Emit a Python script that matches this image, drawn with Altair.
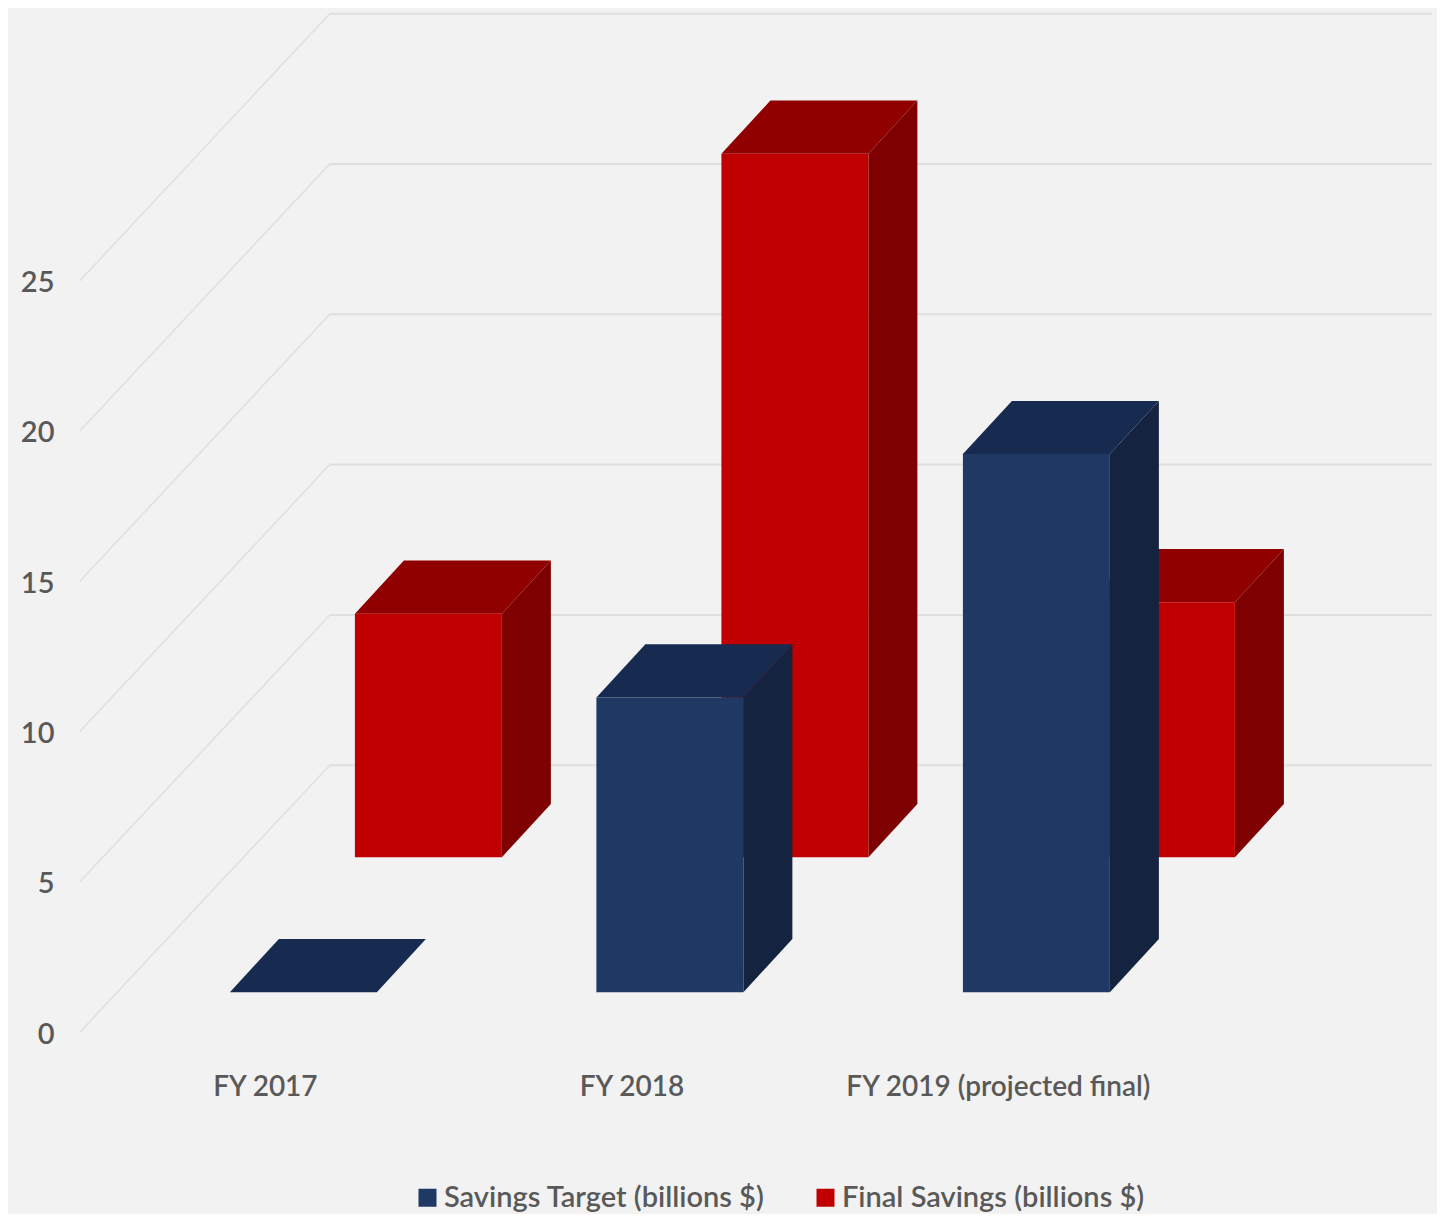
import altair as alt
import pandas as pd

categories = ["FY 2017", "FY 2018", "FY 2019 (projected final)"]
savings_target = [0.0, 9.8, 17.9]
final_savings = [8.1, 23.4, 8.48]
series_names = ["Savings Target (billions $)", "Final Savings (billions $)"]
axis_ticks = [0, 5, 10, 15, 20, 25]

FRONT = {series_names[0]: "#1f3864", series_names[1]: "#c00000"}
TOP = {series_names[0]: "#172a4f", series_names[1]: "#900000"}
SIDE = {series_names[0]: "#14233f", series_names[1]: "#7f0000"}
TEXT = "#595959"
GRID = "#dfdfdf"
FONT = "Lato"
FS = 29

# projection geometry, in data units
BASE = {series_names[0]: 1.33, series_names[1]: 5.82}
LEFT = {series_names[0]: -0.0955, series_names[1]: 0.2456}
BAR_W = 0.401
DX = 0.1337
DY = 1.77
WALL_V = 8.88
WALL_X0, WALL_X1, FLOOR_X = 0.177, 3.184, -0.505

x_scale = alt.Scale(domain=[-0.559, 3.198], nice=False, zero=False)
y_scale = alt.Scale(domain=[-6.05, 34.07], nice=False, zero=False)
X = lambda f="x", **k: alt.X(f"{f}:Q", scale=x_scale, **k)
Y = lambda f="y", **k: alt.Y(f"{f}:Q", scale=y_scale, **k)

rows = []
for s, vals in zip(series_names, [savings_target, final_savings]):
    for i, (c, v) in enumerate(zip(categories, vals)):
        rows.append(dict(series=s, cat=c, x0=i + LEFT[s], x1=i + LEFT[s] + BAR_W,
                         b=BASE[s], t=BASE[s] + v))
bars = pd.DataFrame(rows)

side_rows, top_rows = [], []
for r in rows:
    side_rows += [dict(series=r["series"], cat=r["cat"], x=r["x1"], y=r["b"], y2=r["t"]),
                  dict(series=r["series"], cat=r["cat"], x=r["x1"] + DX, y=r["b"] + DY, y2=r["t"] + DY)]
    top_rows += [dict(series=r["series"], cat=r["cat"], y=r["t"], x=r["x0"], x2=r["x1"]),
                 dict(series=r["series"], cat=r["cat"], y=r["t"] + DY, x=r["x0"] + DX, x2=r["x1"] + DX)]
sides = pd.DataFrame(side_rows)
tops = pd.DataFrame(top_rows)

wall = pd.DataFrame([dict(v=t + WALL_V, x=WALL_X0, x2=WALL_X1) for t in axis_ticks])
diag = pd.DataFrame(
    [dict(k=t, x=FLOOR_X, y=t) for t in axis_ticks] +
    [dict(k=t, x=WALL_X0, y=t + WALL_V) for t in axis_ticks]
)

axes = alt.Chart(pd.DataFrame({"x": [0.0], "y": [0.0]})).mark_point(opacity=0).encode(
    x=X(axis=alt.Axis(values=[0, 1, 2], title=None, domain=False, ticks=False, grid=False,
                      labelExpr=f"['{categories[0]}','{categories[1]}','{categories[2]}'][datum.value]",
                      labelFont=FONT, labelFontSize=28, labelColor=TEXT, labelPadding=0,
                      labelFontWeight=600, labelLimit=0, labelOverlap=False, labelFlush=False,
                      labelBaseline="middle", offset=-127)),
    y=Y(axis=alt.Axis(values=axis_ticks, title=None, domain=False, ticks=False, grid=False,
                      labelFont=FONT, labelFontSize=FS, labelColor=TEXT, labelPadding=6,
                      labelFontWeight=600, labelOffset=2)),
)

wall_lines = alt.Chart(wall).mark_rule(color=GRID, strokeWidth=2).encode(x=X(), x2="x2:Q", y=Y("v"))
diag_lines = alt.Chart(diag).mark_line(color=GRID, strokeWidth=1.5).encode(x=X(), y=Y(), detail="k:Q")

layers = [axes, wall_lines, diag_lines]
for s in [series_names[1], series_names[0]]:
    sd = sides[(sides.series == s) & (sides.y != sides.y2)]
    layers.append(alt.Chart(sd).mark_area(color=SIDE[s], orient="vertical").encode(
        x=X(), y=Y(), y2="y2:Q", detail="cat:N"))
    layers.append(alt.Chart(tops[tops.series == s]).mark_area(color=TOP[s], orient="horizontal").encode(
        y=Y(), x=X(), x2="x2:Q", detail="cat:N"))
    layers.append(alt.Chart(bars[bars.series == s]).mark_rect().encode(
        x=X("x0"), x2="x1:Q", y=Y("b"), y2="t:Q",
        color=alt.Color("series:N",
                        scale=alt.Scale(domain=series_names, range=[FRONT[n] for n in series_names]),
                        legend=alt.Legend(title=None, orient="none", direction="horizontal",
                                          legendX=353, legendY=1175, symbolType="square",
                                          symbolSize=324, symbolStrokeWidth=0, labelFont=FONT,
                                          labelFontSize=FS, labelColor=TEXT, labelLimit=0,
                                          labelFontWeight=600,
                                          columnPadding=46, symbolOpacity=1, labelOffset=2))))

chart = alt.layer(*layers).properties(
    width=1377, height=1206, background="#f2f2f2",
    padding={"left": 52, "top": 0, "right": 0, "bottom": 0},
    autosize=alt.AutoSizeParams(type="none"),
).configure_view(stroke=None)

chart.save("out.html", embed_options={"renderer": "svg", "actions": False})
